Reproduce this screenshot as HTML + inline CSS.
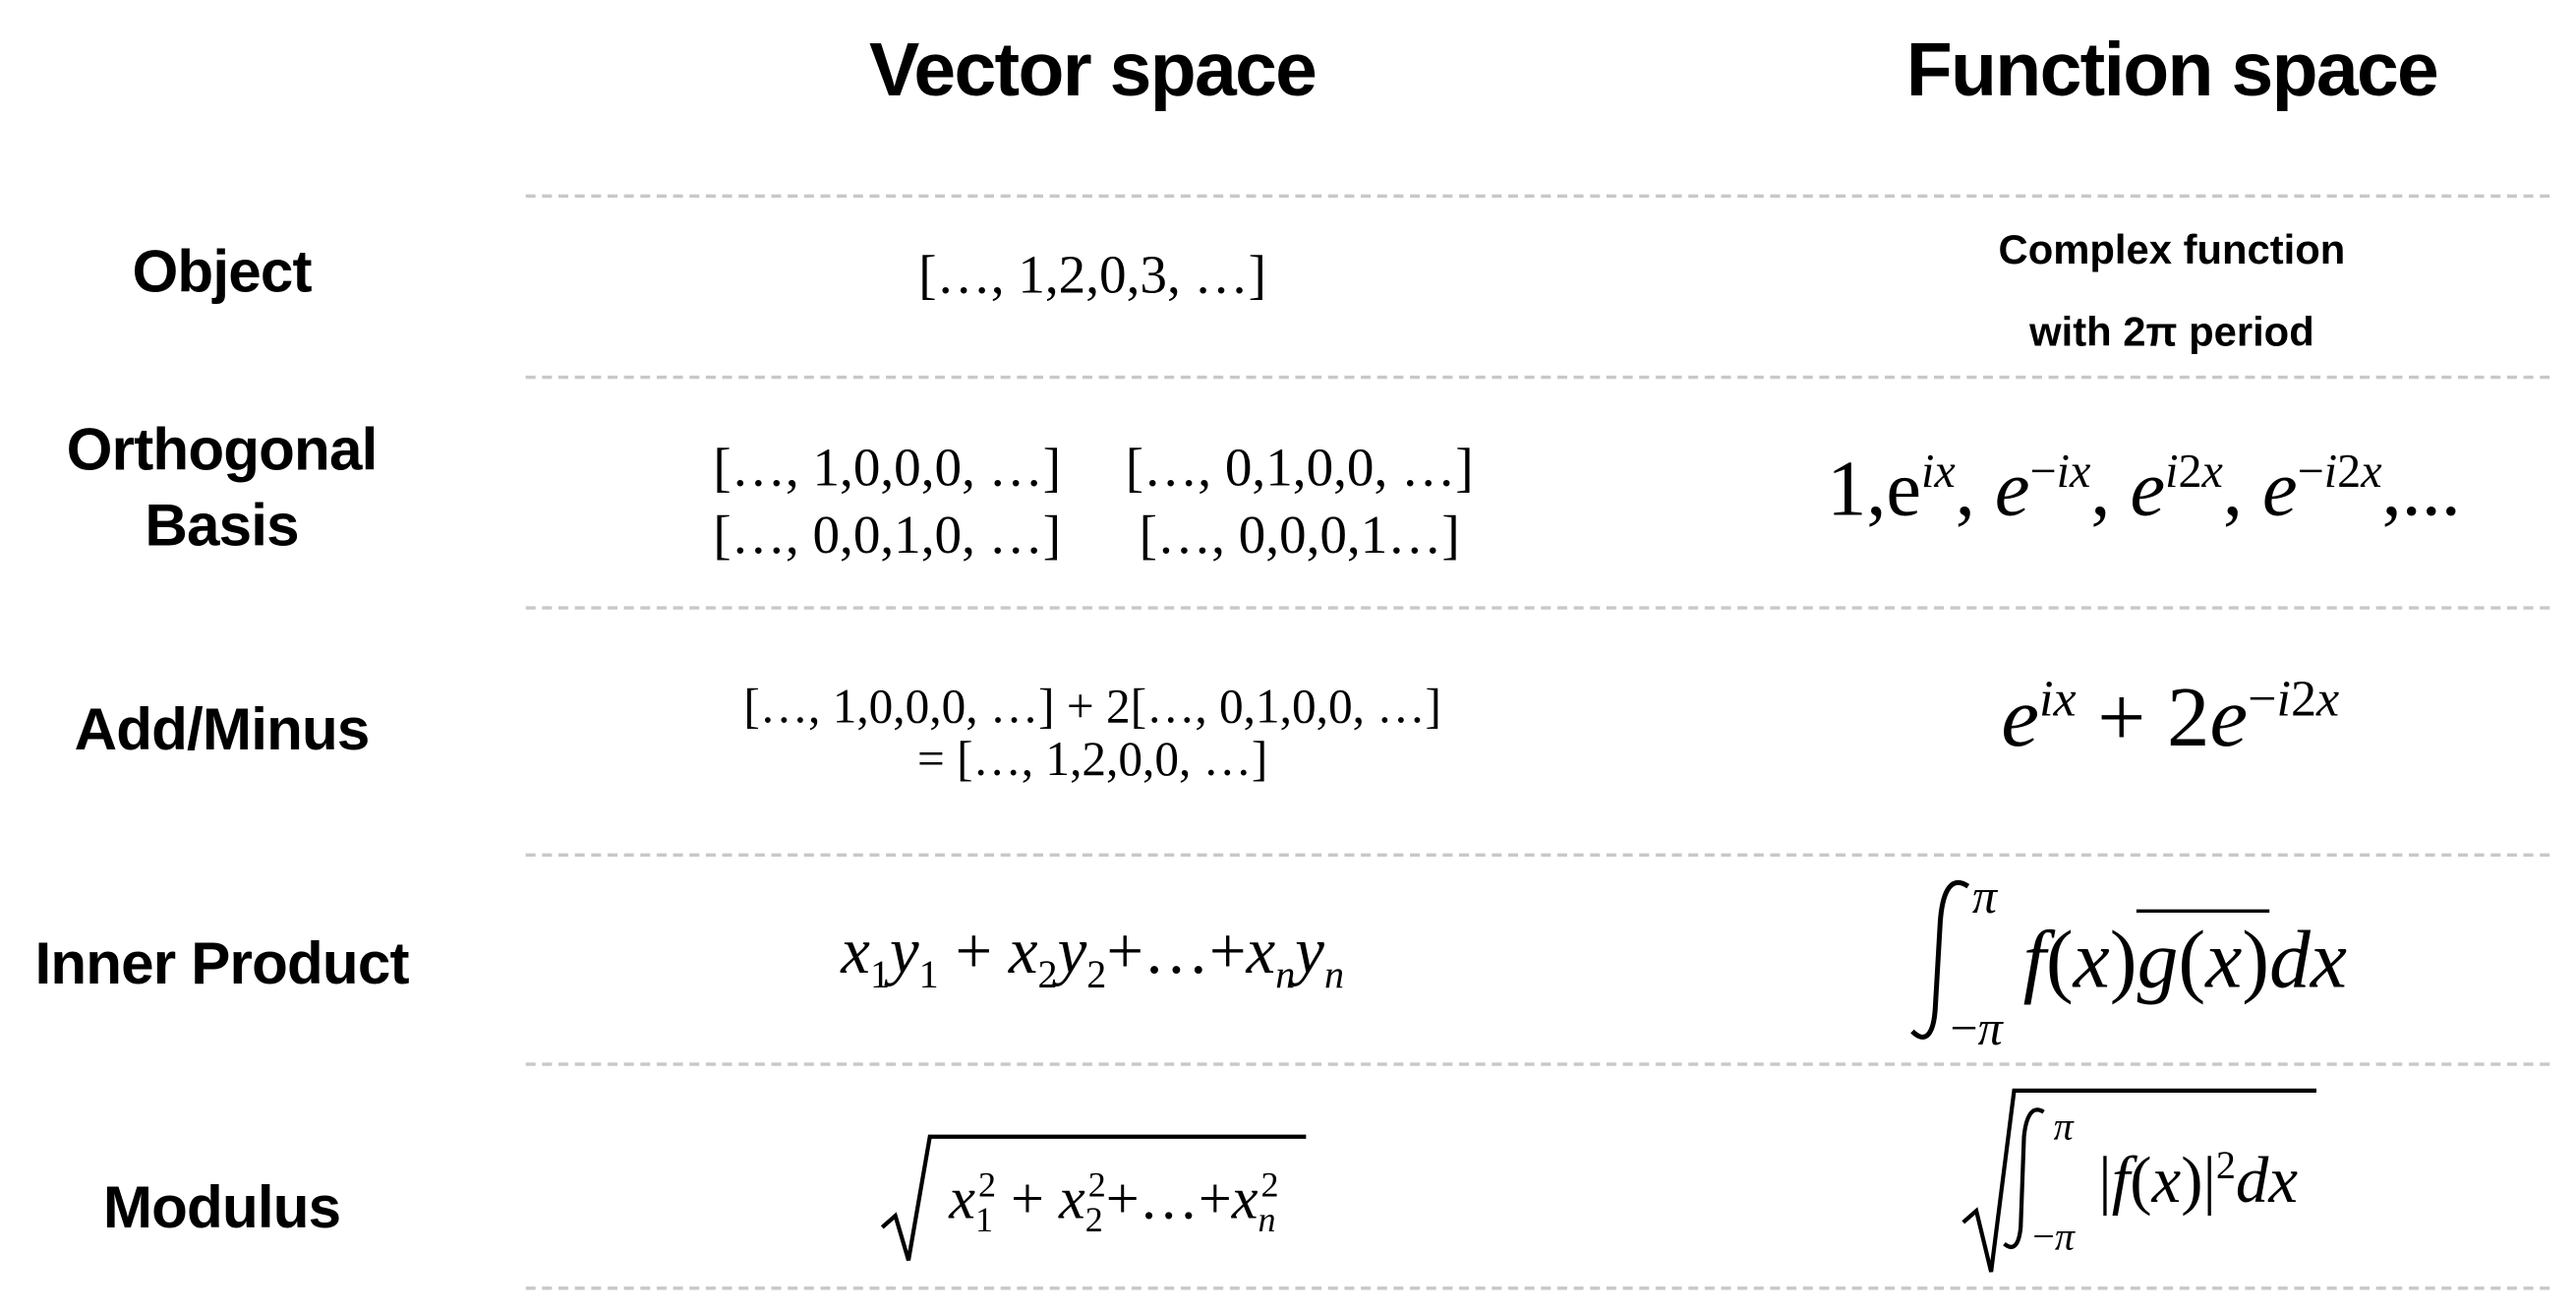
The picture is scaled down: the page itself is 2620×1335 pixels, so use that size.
<!DOCTYPE html>
<html><head><meta charset="utf-8">
<style>
html,body{margin:0;padding:0;background:#fff;}
body{width:2620px;height:1335px;overflow:hidden;position:relative;}
#stage{position:absolute;left:0;top:0;width:1568px;height:797px;transform-origin:0 0;transform:scale(1.6709,1.675);}
.a{position:absolute;white-space:nowrap;transform:translate(-50%,-50%);color:#000;}
.h{font-family:"Liberation Sans",sans-serif;font-weight:bold;font-size:46px;letter-spacing:-1px;}
.l{font-family:"Liberation Sans",sans-serif;font-weight:bold;font-size:36px;letter-spacing:-0.5px;text-align:center;line-height:46px;}
.m{font-family:"Liberation Serif",serif;font-size:31px;}
.s{font-family:"Liberation Sans",sans-serif;font-weight:bold;font-size:25px;text-align:center;line-height:50px;}
i{font-style:italic;}
.dash{position:absolute;left:320px;width:1232px;height:0;border-top:2px dashed #c8c8c8;}
sub,sup{font-size:60%;}
svg{position:absolute;left:0;top:0;}
</style></head><body>
<div id="stage">
<div class="a h" style="left:665px;top:42px">Vector space</div>
<div class="a h" style="left:1322px;top:42px">Function space</div>

<div class="dash" style="top:118px"></div>
<div class="dash" style="top:228px"></div>
<div class="dash" style="top:368px"></div>
<div class="dash" style="top:518px"></div>
<div class="dash" style="top:645px"></div>
<div class="dash" style="top:781px"></div>

<div class="a l" style="left:135px;top:165px">Object</div>
<div class="a l" style="left:135px;top:296px">Orthogonal<br>Basis</div>
<div class="a l" style="left:135px;top:443px">Add/Minus</div>
<div class="a l" style="left:135px;top:585px">Inner Product</div>
<div class="a l" style="left:135px;top:733px">Modulus</div>

<div class="a m" style="left:665px;top:168px;font-size:33px">[…, 1,2,0,3, …]</div>
<div class="a s" style="left:1322px;top:177px">Complex function<br>with 2π period</div>

<div class="a m" style="left:540px;top:285px;font-size:33px">[…, 1,0,0,0, …]</div>
<div class="a m" style="left:791px;top:285px;font-size:33px">[…, 0,1,0,0, …]</div>
<div class="a m" style="left:540px;top:326px;font-size:33px">[…, 0,0,1,0, …]</div>
<div class="a m" style="left:791px;top:326px;font-size:33px">[…, 0,0,0,1…]</div>
<div class="a m" style="left:1305px;top:297px;font-size:48px">1,e<sup><i>ix</i></sup>, <i>e</i><sup>−<i>ix</i></sup>, <i>e</i><sup><i>i</i>2<i>x</i></sup>, <i>e</i><sup>−<i>i</i>2<i>x</i></sup>,...</div>

<div class="a m" style="left:665px;top:430px;font-size:29.5px">[…, 1,0,0,0, …] + 2[…, 0,1,0,0, …]</div>
<div class="a m" style="left:665px;top:462px;font-size:29.5px">= […, 1,2,0,0, …]</div>
<div class="a m" style="left:1321px;top:436px;font-size:52px"><i>e</i><sup><i>ix</i></sup> + 2<i>e</i><sup>−<i>i</i>2<i>x</i></sup></div>

<div class="a m" style="left:665px;top:580px;font-size:40px"><i>x</i><sub>1</sub><i>y</i><sub>1</sub> + <i>x</i><sub>2</sub><i>y</i><sub>2</sub>+…+<i>x<sub>n</sub>y<sub>n</sub></i></div>

<svg width="1568" height="797">
  <path d="M1198,538 C1186,530 1182,545 1181,560 L1178,612 C1177,628 1172,634 1164,626" fill="none" stroke="#000" stroke-width="3"/>
  <path d="M537,745 L545,738 L553,765 L566,690 L795,690" fill="none" stroke="#000" stroke-width="2.5"/>
  <path d="M1195,742 L1203,735 L1212,772 L1226,662 L1410,662" fill="none" stroke="#000" stroke-width="2.5"/>
  <path d="M1244,675 C1236,670 1233,680 1232,690 L1230,745 C1229,755 1226,760 1220,755" fill="none" stroke="#000" stroke-width="2.5"/>
</svg>
<div class="a m" style="left:1208px;top:545px;font-size:30px"><i>π</i></div>
<div class="a m" style="left:1203px;top:625px;font-size:30px">−<i>π</i></div>
<div class="a m" style="left:1330px;top:582px;font-size:50px"><i>f</i>(<i>x</i>)<span style="border-top:2px solid #000"><i>g</i>(<i>x</i>)</span><i>dx</i></div>

<div class="a m" style="left:678px;top:730px;font-size:36px"><i>x</i><sub>1</sub><sup style="margin-left:-9px">2</sup> + <i>x</i><sub>2</sub><sup style="margin-left:-9px">2</sup>+…+<i>x<sub>n</sub></i><sup style="margin-left:-9px">2</sup></div>
<div class="a m" style="left:1256px;top:685px;font-size:24px"><i>π</i></div>
<div class="a m" style="left:1250px;top:752px;font-size:24px">−<i>π</i></div>
<div class="a m" style="left:1338px;top:716px;font-size:40px">|<i>f</i>(<i>x</i>)|<sup>2</sup><i>dx</i></div>
</div>
</body></html>
